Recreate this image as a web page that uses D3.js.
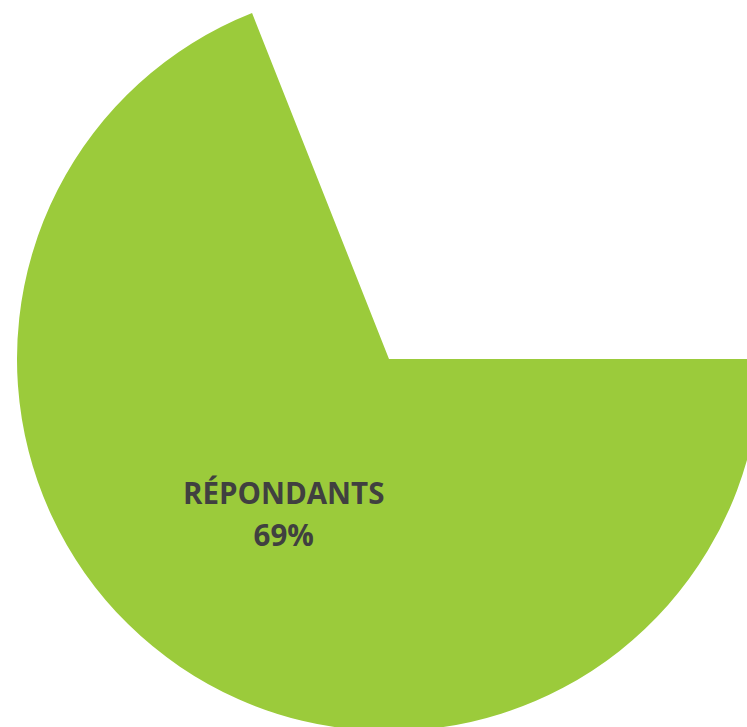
<!DOCTYPE html>
<html>
<head>
<meta charset="utf-8">
<script src="https://cdn.jsdelivr.net/npm/d3@7"></script>
<style>
  body { margin: 0; background: #fff; }
  .lbl { font-family: "Open Sans", sans-serif; font-weight: bold; fill: #404040; }
</style>
</head>
<body>
<script>
const categories = ["RÉPONDANTS", "NON RÉPONDANTS"];
const values = [69, 31];
const colors = ["#9bcb3b", "none"];

const w = 747, h = 727;
const cx = 389, cy = 359, r = 372;

const svg = d3.select("body").append("svg")
  .attr("width", w)
  .attr("height", h);

const pie = d3.pie()
  .sort(null)
  .startAngle(Math.PI / 2)
  .endAngle(Math.PI / 2 + 2 * Math.PI)
  .value(d => d);

const arcs = pie(values);
const arc = d3.arc().innerRadius(0).outerRadius(r);
const labelArc = d3.arc().innerRadius(0).outerRadius(r * 0.95);

const g = svg.append("g").attr("transform", "translate(" + cx + "," + cy + ")");

g.selectAll("path")
  .data(arcs)
  .enter()
  .append("path")
  .attr("d", arc)
  .attr("fill", (d, i) => colors[i]);

// only the first slice is labelled
const c = labelArc.centroid(arcs[0]);
const lab = g.append("text")
  .attr("class", "lbl")
  .attr("text-anchor", "middle")
  .attr("font-size", 29.5)
  .attr("transform", "translate(" + (c[0] - 6) + "," + (c[1] - 1) + ")");
lab.append("tspan").attr("x", 0).attr("y", 0).text(categories[0]);
lab.append("tspan").attr("x", 0).attr("y", 42).text(values[0] + "%");
</script>
</body>
</html>
